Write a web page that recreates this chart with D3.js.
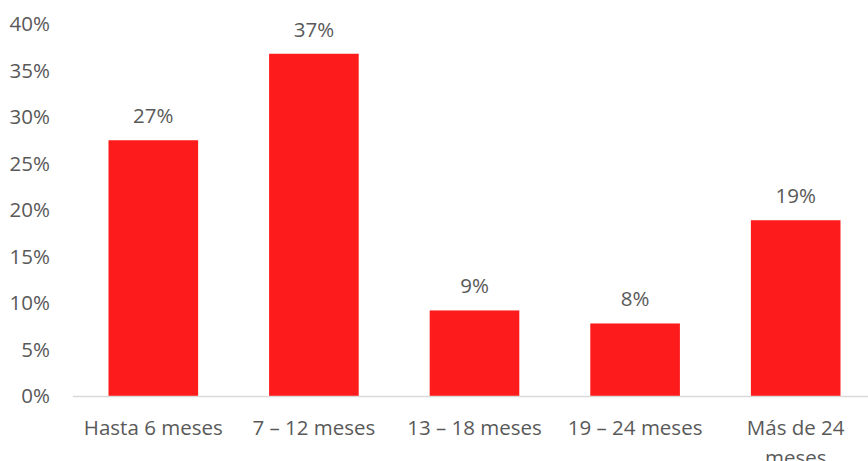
<!DOCTYPE html>
<html>
<head>
<meta charset="utf-8">
<script src="https://cdn.jsdelivr.net/npm/d3@7"></script>
<style>
  body { margin: 0; background: #fff; }
  text { font-family: "Open Sans", sans-serif; fill: #595959; }
</style>
</head>
<body>
<svg id="chart" width="868" height="461"></svg>
<script>
// categories and their shares
var categories = ["Hasta 6 meses", "7 – 12 meses", "13 – 18 meses", "19 – 24 meses", "Más de 24 meses"];
var shares = [0.275, 0.368, 0.092, 0.078, 0.189];
var shareLabels = ["27%", "37%", "9%", "8%", "19%"];
var yTicks = [0, 0.05, 0.10, 0.15, 0.20, 0.25, 0.30, 0.35, 0.40];

var width = 868, height = 461;
var margin = {top: 24, left: 73, bottom: 65, right: -8};
var fontSize = "20.5px";

var svg = d3.select("#chart");

var xScale = d3.scaleBand()
  .domain(categories)
  .range([margin.left, width - margin.right])
  .paddingInner(0.442)
  .paddingOuter(0.221);

var yScale = d3.scaleLinear()
  .domain([0, 0.40])
  .range([height - margin.bottom, margin.top]);

/* y tick labels, no axis line */
var yAxis = d3.axisLeft(yScale)
  .tickValues(yTicks)
  .tickFormat(d3.format(".0%"))
  .tickSize(0)
  .tickPadding(0);
svg.append("g")
  .attr("transform", "translate(50,0)")
  .call(yAxis)
  .call(g => g.select(".domain").remove())
  .selectAll("text")
    .style("font-size", fontSize)
    .style("fill", "#595959")
    .style("font-family", "Open Sans, sans-serif");

/* bars */
svg.append("g").selectAll("rect")
  .data(categories)
  .enter()
  .append("rect")
    .attr("x", (d) => xScale(d))
    .attr("y", (d, i) => yScale(shares[i]))
    .attr("width", xScale.bandwidth())
    .attr("height", (d, i) => yScale(0) - yScale(shares[i]))
    .attr("fill", "#fe1b1b");

/* baseline */
svg.append("line")
  .attr("x1", margin.left)
  .attr("x2", width)
  .attr("y1", yScale(0) + 0.5)
  .attr("y2", yScale(0) + 0.5)
  .attr("stroke", "#d9d9d9")
  .attr("stroke-width", 1.3);

/* value labels */
svg.append("g").selectAll("text")
  .data(categories)
  .enter()
  .append("text")
    .attr("x", (d) => xScale(d) + xScale.bandwidth() / 2)
    .attr("y", (d, i) => yScale(shares[i]) - 17)
    .attr("text-anchor", "middle")
    .style("font-size", fontSize)
    .text((d, i) => shareLabels[i]);

/* category labels, wrapped when wider than the band */
var catLabels = svg.append("g").selectAll("text")
  .data(categories)
  .enter()
  .append("text")
    .attr("x", (d) => xScale(d) + xScale.bandwidth() / 2)
    .attr("y", yScale(0) + 39)
    .attr("text-anchor", "middle")
    .style("font-size", fontSize);

catLabels.each(function (d) {
  var el = d3.select(this);
  var words = d.split(" ");
  var x = el.attr("x");
  var line = [];
  var tspan = el.append("tspan").attr("x", x).attr("dy", 0);
  words.forEach(function (w) {
    line.push(w);
    tspan.text(line.join(" "));
    if (tspan.node().getComputedTextLength() > 152 && line.length > 1) {
      line.pop();
      tspan.text(line.join(" "));
      line = [w];
      tspan = el.append("tspan").attr("x", x).attr("dy", "1.45em").text(w);
    }
  });
});
</script>
</body>
</html>
